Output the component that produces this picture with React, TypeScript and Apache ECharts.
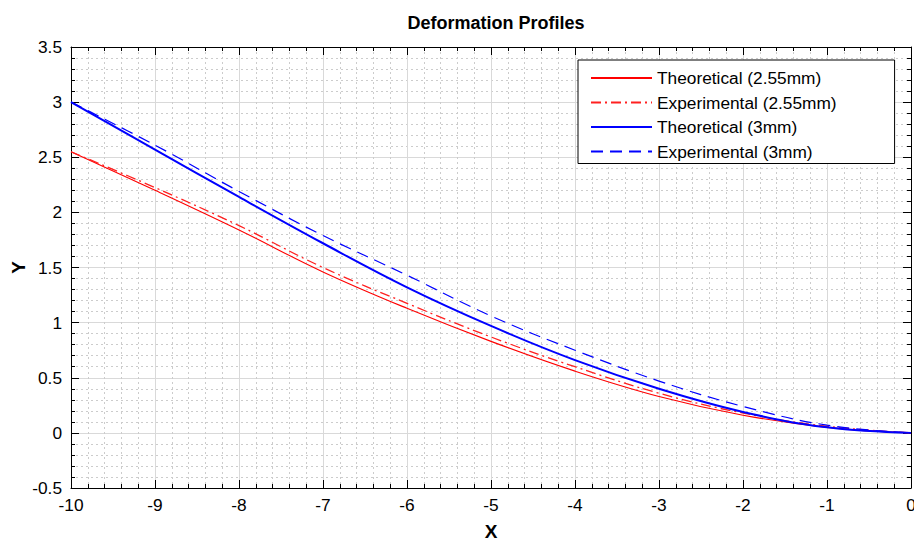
import React, { useEffect, useRef } from "react";
import * as echarts from "echarts";

const xValues = [-10, -9, -8, -7, -6, -5, -4, -3, -2, -1, 0];
const theo255 = [2.55, 2.2, 1.84, 1.46, 1.13, 0.83, 0.56, 0.33, 0.16, 0.05, 0];
const exp255 = [2.55, 2.225, 1.88, 1.5, 1.175, 0.87, 0.6, 0.36, 0.18, 0.06, 0];
const theo3 = [3.0, 2.57, 2.14, 1.72, 1.32, 0.97, 0.66, 0.4, 0.19, 0.05, 0];
const exp3 = [3.0, 2.61, 2.19, 1.79, 1.43, 1.06, 0.75, 0.47, 0.24, 0.07, 0];
const seriesNames = [
  "Theoretical (2.55mm)",
  "Experimental (2.55mm)",
  "Theoretical (3mm)",
  "Experimental (3mm)",
];

const FONT = "'Liberation Sans', Arial, Helvetica, sans-serif";

function pairs(ys: number[]) {
  return xValues.map((x, i) => [x, ys[i]]);
}

export default function App() {
  const ref = useRef<HTMLDivElement>(null);
  useEffect(() => {
    if (!ref.current) return;
    const chart = echarts.init(ref.current, undefined, { renderer: "svg" });
    const axisCommon = {
      axisLine: { show: true, onZero: false, lineStyle: { color: "#000", width: 1 } },
      axisTick: { show: true, inside: true, length: 8, lineStyle: { color: "#000", width: 1 } },
      minorTick: { show: true, splitNumber: 5, length: 4, lineStyle: { color: "#000", width: 1 } },
    };
    chart.setOption({
      animation: false,
      backgroundColor: "#fff",
      title: {
        text: "Deformation Profiles",
        left: 491,
        textAlign: "center",
        top: 9,
        textStyle: { fontFamily: FONT, fontSize: 18, fontWeight: "bold", color: "#000" },
      },
      legend: {
        orient: "vertical",
        left: 578,
        top: 60,
        padding: [8, 58, 2, 12],
        itemWidth: 61,
        itemHeight: 14,
        itemGap: 4.5,
        itemStyle: { opacity: 0 },
        backgroundColor: "#fff",
        borderColor: "#000",
        borderWidth: 1,
        borderRadius: 0,
        textStyle: { fontFamily: FONT, fontSize: 17.3, color: "#000", lineHeight: 20 },
        data: seriesNames,
      },
      grid: { left: 71, right: 3, top: 47, bottom: 55, containLabel: false, outerBoundsMode: "none" },
      xAxis: [
        {
          type: "value",
          min: -10,
          max: 0,
          interval: 1,
          position: "bottom",
          ...axisCommon,
          name: "X",
          nameLocation: "middle",
          nameGap: 34,
          nameMoveOverlap: false,
          nameTextStyle: { fontFamily: FONT, fontSize: 19, fontWeight: "bold", color: "#000" },
          axisLabel: { fontFamily: FONT, fontSize: 17.3, color: "#000", margin: 8 },
          splitLine: { show: true, lineStyle: { color: "#d9d9d9", width: 1 } },
          minorSplitLine: { show: true, lineStyle: { color: "#cccccc", width: 1, type: [2, 3] } },
        },
        {
          type: "value",
          min: -10,
          max: 0,
          interval: 1,
          position: "top",
          ...axisCommon,
          axisLabel: { show: false },
          splitLine: { show: false },
        },
      ],
      yAxis: [
        {
          type: "value",
          min: -0.5,
          max: 3.5,
          interval: 0.5,
          position: "left",
          ...axisCommon,
          name: "Y",
          nameLocation: "middle",
          nameGap: 43,
          nameMoveOverlap: false,
          nameTextStyle: { fontFamily: FONT, fontSize: 19, fontWeight: "bold", color: "#000" },
          axisLabel: { fontFamily: FONT, fontSize: 17.3, color: "#000", margin: 9 },
          splitLine: { show: true, lineStyle: { color: "#d9d9d9", width: 1 } },
          minorSplitLine: { show: true, lineStyle: { color: "#cccccc", width: 1, type: [2, 3] } },
        },
        {
          type: "value",
          min: -0.5,
          max: 3.5,
          interval: 0.5,
          position: "right",
          ...axisCommon,
          axisLabel: { show: false },
          splitLine: { show: false },
        },
      ],
      series: [
        {
          name: seriesNames[0],
          type: "line",
          data: pairs(theo255),
          smooth: 0.4,
          symbol: "none",
          lineStyle: { color: "#ff0000", width: 1.1, type: "solid" },
          itemStyle: { color: "#ff0000" },
        },
        {
          name: seriesNames[1],
          type: "line",
          data: pairs(exp255),
          smooth: 0.4,
          symbol: "none",
          lineStyle: { color: "#ff2020", width: 1.3, type: [10, 4, 2, 4] },
          itemStyle: { color: "#ff2020" },
        },
        {
          name: seriesNames[2],
          type: "line",
          data: pairs(theo3),
          smooth: 0.4,
          symbol: "none",
          lineStyle: { color: "#0000ff", width: 2, type: "solid" },
          itemStyle: { color: "#0000ff" },
        },
        {
          name: seriesNames[3],
          type: "line",
          data: pairs(exp3),
          smooth: 0.4,
          symbol: "none",
          lineStyle: { color: "#0000ff", width: 1.2, type: [12, 7] },
          itemStyle: { color: "#0000ff" },
        },
      ],
    });
    return () => chart.dispose();
  }, []);
  return (
    <div
      ref={ref}
      style={{ position: "fixed", left: 0, top: 0, width: 914, height: 543, background: "#fff" }}
    />
  );
}
